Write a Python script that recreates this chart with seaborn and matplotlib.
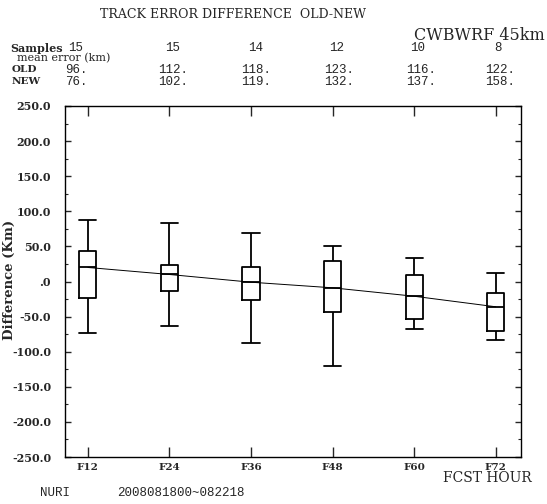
import matplotlib
matplotlib.use('Agg')
import matplotlib.pyplot as plt
import seaborn as sns
import pandas as pd
import numpy as np

hours = ['F12', 'F24', 'F36', 'F48', 'F60', 'F72']
samples = ['15', '15', '14', '12', '10', '8']
old_err = ['96.', '112.', '118.', '123.', '116.', '122.']
new_err = ['76.', '102.', '119.', '132.', '137.', '158.']
whis_low = [-74, -64, -88, -120, -68, -83]
q1 = [-23, -14, -26, -44, -53, -70]
median = [20, 10, -1, -9, -21, -36]
q3 = [44, 23, 20, 29, 9, -16]
whis_high = [87, 84, 69, 50, 33, 12]
ytick_vals = [250, 200, 150, 100, 50, 0, -50, -100, -150, -200, -250]
ytick_labels = ['250.0', '200.0', '150.0', '100.0', '50.0', '.0', '-50.0',
                '-100.0', '-150.0', '-200.0', '-250.0']

rows = []
for h, a, b, c, d, e in zip(hours, whis_low, q1, median, q3, whis_high):
    for v in (a, b, c, d, e):
        rows.append({'hour': h, 'diff': v})
df = pd.DataFrame(rows)
med_df = pd.DataFrame({'hour': hours, 'diff': median})

sns.set_style('ticks')
plt.rcParams['font.family'] = ['DejaVu Serif']

W, H = 547, 504
fig = plt.figure(figsize=(W / 100, H / 100), dpi=100)
ax = fig.add_axes([65 / W, 1 - 457 / H, (521 - 65) / W, (457 - 106) / H])

sns.boxplot(data=df, x='hour', y='diff', order=hours, whis=(0, 100), width=0.21,
            fill=False, color='black', linewidth=1.3, ax=ax,
            capwidths=0.21)
ax.plot(range(len(hours)), med_df['diff'], color='black', lw=0.7)

ax.set_xlim(-0.28, 5.31)
ax.set_ylim(-250, 250)
ax.set_yticks(ytick_vals)
ax.set_yticklabels(ytick_labels, fontsize=8, fontweight='bold')
ax.set_yticks(np.arange(-225, 250, 50), minor=True)
ax.set_xticks(range(len(hours)))
ax.set_xticklabels(hours, fontsize=7.5, fontweight='bold')
ax.tick_params(axis='x', direction='in', length=7, width=1, top=True, bottom=True, pad=4)
ax.tick_params(axis='y', which='major', direction='in', length=4, width=1, left=True, right=True, pad=10)
ax.tick_params(axis='y', which='minor', direction='in', length=2, width=0.8, left=True, right=True)
ax.set_xlabel('')
ax.set_ylabel('')
for s in ax.spines.values():
    s.set_visible(True)
    s.set_linewidth(1)
    s.set_color('black')

def ftext(x, y, s, **kw):
    fig.text(x / W, 1 - y / H, s, va='center', **kw)

mono = 'Liberation Mono'
ftext(100, 15, 'TRACK ERROR DIFFERENCE  OLD-NEW', fontsize=9)
ftext(545, 35, 'CWBWRF 45km', fontsize=11.5, ha='right')
ftext(10, 48, 'Samples', fontsize=8, fontweight='bold')
ftext(17, 58, 'mean error (km)', fontsize=8)
ftext(12, 70, 'OLD', fontsize=7.5, fontweight='bold')
ftext(12, 82, 'NEW', fontsize=7.5, fontweight='bold')
samp_r = [83, 180, 263, 344, 425, 502]
err_r = [88, 188, 271, 354, 436, 515]
for i in range(len(hours)):
    ftext(samp_r[i], 48, samples[i], fontsize=9, family=mono, ha='right')
    ftext(err_r[i], 70, old_err[i], fontsize=9, family=mono, ha='right')
    ftext(err_r[i], 82, new_err[i], fontsize=9, family=mono, ha='right')

ftext(9, 280, 'Difference (Km)', fontsize=9.5, fontweight='bold', rotation=90, ha='center')
ftext(443, 478, 'FCST HOUR', fontsize=10)
ftext(40, 493, 'NURI', fontsize=9, family=mono)
ftext(117, 493, '2008081800~082218', fontsize=9, family=mono)

fig.savefig('out.png', dpi=100)
